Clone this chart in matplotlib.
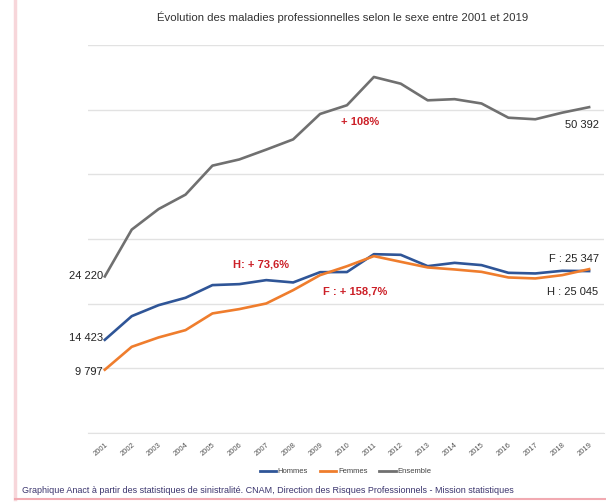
import numpy as np
import matplotlib.pyplot as plt
from matplotlib.lines import Line2D

plt.rcParams['font.family'] = ['Liberation Sans', 'DejaVu Sans']

# données
annees = list(range(2001, 2020))
hommes = [14423, 18080, 19780, 20920, 22880, 23030, 23650, 23290, 24880, 24900,
          27660, 27560, 25810, 26320, 25970, 24780, 24680, 25090, 25045]
femmes = [9797, 13340, 14790, 15920, 18500, 19170, 20040, 22100, 24420, 25800,
          27360, 26480, 25610, 25300, 24930, 24060, 23910, 24420, 25347]
ensemble = [24220, 31460, 34640, 36870, 41350, 42310, 43830, 45410, 49340, 50690,
            55060, 54020, 51450, 51630, 50960, 48760, 48520, 49540, 50392]

c_h = '#2f5597'
c_f = '#ef7d2d'
c_e = '#707070'
rouge = '#cc1f27'

fig = plt.figure(figsize=(6.06, 5.03), dpi=100)
ax = fig.add_axes([0.145, 0.139, 0.852, 0.7715])

ax.plot(annees, hommes, c=c_h, lw=1.9)
ax.plot(annees, femmes, c=c_f, lw=1.9)
ax.plot(annees, ensemble, c=c_e, lw=1.9)

ax.set_xlim(2000.37, 2019.56)
ax.set_ylim(0, 60000)
ax.set_yticks(np.arange(0, 60001, 10000))
ax.set_yticklabels([])
ax.tick_params(axis='y', length=0)
ax.grid(axis='y', color='#e2e2e2', lw=1)
ax.set_axisbelow(True)
for s in ['top', 'right', 'left']:
    ax.spines[s].set_visible(False)
ax.spines['bottom'].set_color('#e2e2e2')

ax.set_xticks(annees)
ax.set_xticklabels([str(a) for a in annees], rotation=40, fontsize=5.5,
                   color='#555555', ha='right', rotation_mode='anchor')
ax.tick_params(axis='x', length=0, pad=6)

# valeurs de début et de fin
kw = dict(fontsize=8, color='#222222', va='center')
ax.text(2000.92, ensemble[0], '24 220', ha='right', **kw)
ax.text(2000.92, hommes[0] + 300, '14 423', ha='right', **kw)
ax.text(2000.92, femmes[0] - 300, '9 797', ha='right', **kw)
ax.text(2019.35, ensemble[-1] - 2700, '50 392', ha='right', **kw)
ax.text(2019.35, 26900, 'F : 25 347', ha='right', **kw)
ax.text(2019.35, 21800, 'H : 25 045', ha='right', **kw)

# évolutions
rkw = dict(fontsize=8, color=rouge, fontweight='bold', ha='center', va='center')
ax.text(2010.5, 48100, '+ 108%', **rkw)
ax.text(2006.8, 26100, 'H: + 73,6%', **rkw)
ax.text(2010.3, 21900, 'F : + 158,7%', **rkw)

fig.text(0.566, 0.965, 'Évolution des maladies professionnelles selon le sexe entre 2001 et 2019',
         ha='center', va='center', fontsize=8.2, color='#333333')

handles = [Line2D([], [], c=c_h, lw=2), Line2D([], [], c=c_f, lw=2), Line2D([], [], c=c_e, lw=2)]
fig.legend(handles, ['Hommes', 'Femmes', 'Ensemble'], loc='center', bbox_to_anchor=(0.57, 0.062),
           ncol=3, frameon=False, fontsize=5.5, handlelength=2.2, handletextpad=0.2,
           columnspacing=1.5, labelcolor='#444444')

fig.text(0.036, 0.024, 'Graphique Anact à partir des statistiques de sinistralité. CNAM, Direction des Risques Professionnels - Mission statistiques',
         ha='left', va='center', fontsize=6.5, color='#3b356e')

# bordure rose
fig.add_artist(Line2D([0.024, 0.024], [0.008, 1], c='#f7d6da', lw=2.5, transform=fig.transFigure))
fig.add_artist(Line2D([0.024, 1], [0.008, 0.008], c='#f2aab2', lw=1.5, transform=fig.transFigure))

plt.savefig('out.png', dpi=100)
